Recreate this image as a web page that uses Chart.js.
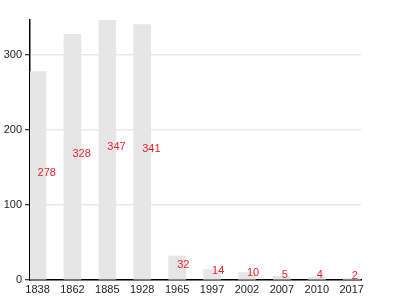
<!DOCTYPE html>
<html>
<head>
<meta charset="utf-8">
<script src="https://cdn.jsdelivr.net/npm/chart.js@4/dist/chart.umd.min.js"></script>
<style>
  html, body { margin: 0; padding: 0; background: #fff; }
  #wrap { width: 400px; height: 300px; }
</style>
</head>
<body>
<div id="wrap"><canvas id="chart"></canvas></div>
<script>
const years = ['1838', '1862', '1885', '1928', '1965', '1997', '2002', '2007', '2010', '2017'];
const counts = [278, 328, 347, 341, 32, 14, 10, 5, 4, 2];
const yTicks = [0, 100, 200, 300];

// red numbers, left aligned at the bar centre, about half way up
const valueLabels = {
    id: 'valueLabels',
    afterDatasetsDraw(chart) {
        const ctx = chart.ctx;
        const meta = chart.getDatasetMeta(0);
        ctx.save();
        ctx.font = '11px "Liberation Sans", Arial, sans-serif';
        ctx.fillStyle = '#e8232b';
        ctx.textAlign = 'left';
        ctx.textBaseline = 'middle';
        meta.data.forEach((bar, i) => {
            const y = (bar.y + bar.base) / 2 - 3;
            ctx.fillText(String(counts[i]), bar.x, y);
        });
        ctx.restore();
    }
};

const ctx = document.getElementById('chart').getContext('2d');
new Chart(ctx, {
    type: 'bar',
    data: {
        datasets: [{
            data: counts.map((v, i) => ({ x: i, y: v })),
            backgroundColor: '#e6e6e6',
            borderWidth: 0,
            barThickness: 17
        }]
    },
    options: {
        responsive: true,
        maintainAspectRatio: false,
        animation: false,
        layout: { padding: { top: 20, right: 39, left: 0, bottom: 0 } },
        plugins: {
            legend: { display: false },
            tooltip: { enabled: false }
        },
        scales: {
            x: {
                type: 'linear',
                offset: false,
                min: -0.2155,
                max: 9.267,
                afterBuildTicks: scale => {
                    scale.ticks = years.map((_, i) => ({ value: i }));
                },
                afterFit: scale => { scale.height = 20; },
                ticks: {
                    autoSkip: false,
                    maxRotation: 0,
                    padding: 3,
                    color: '#222',
                    font: { family: '"Liberation Sans", Arial, sans-serif', size: 11 },
                    callback: v => years[v]
                },
                grid: { display: false, drawTicks: false, offset: false },
                border: { color: '#000', width: 1.5 }
            },
            y: {
                min: 0,
                max: 347,
                afterBuildTicks: scale => {
                    scale.ticks = yTicks.map(v => ({ value: v }));
                },
                afterFit: scale => { scale.width = 30; },
                ticks: {
                    padding: 3,
                    color: '#222',
                    font: { family: '"Liberation Sans", Arial, sans-serif', size: 11 }
                },
                grid: {
                    color: '#e9e9e9',
                    lineWidth: 1.5,
                    tickLength: 5,
                    tickColor: '#000',
                    tickWidth: 1
                },
                border: { color: '#000', width: 1.5 }
            }
        }
    },
    plugins: [valueLabels]
});
</script>
</body>
</html>
